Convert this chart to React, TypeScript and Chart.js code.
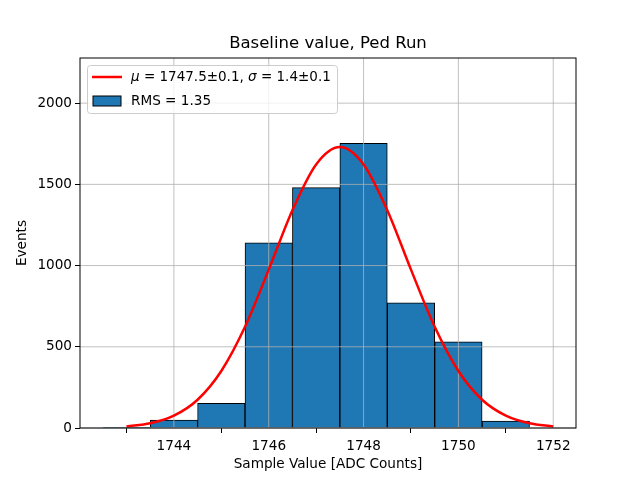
import React, { useEffect, useRef } from 'react';
import { Chart, registerables } from 'chart.js';

Chart.register(...registerables);

// histogram bins (centres) and counts
const binCentres = [1743, 1744, 1745, 1746, 1747, 1748, 1749, 1750, 1751];
const binCounts = [2, 48, 152, 1140, 1480, 1752, 770, 530, 43];

// gaussian fit curve
const fitX = [1743, 1743.5, 1744, 1744.5, 1745, 1745.5, 1746, 1746.5, 1747, 1747.5, 1748, 1748.5, 1749, 1749.5, 1750, 1750.5, 1751, 1751.5, 1752];
const fitY = [10, 29, 76, 174, 351, 623, 975, 1341, 1623, 1730, 1623, 1341, 975, 623, 351, 174, 76, 29, 10];

const xTicks = [1744, 1746, 1748, 1750, 1752];
const yTicks = [0, 500, 1000, 1500, 2000];

const FONT = 'DejaVu Sans';
const TITLE = 'Baseline value, Ped Run';

const overlayPlugin = {
  id: 'overlay',
  // grid goes over the bars but under the fit line
  afterDatasetDraw(chart: any, args: any) {
    if (args.index !== 0) return;
    const { ctx, chartArea: a, scales } = chart;
    const x = scales.x;
    const y = scales.y;
    ctx.save();
    ctx.strokeStyle = '#b0b0b0';
    ctx.lineWidth = 0.8;
    ctx.beginPath();
    x.ticks.forEach((t: any) => {
      const px = x.getPixelForValue(t.value);
      ctx.moveTo(px, a.top);
      ctx.lineTo(px, a.bottom);
    });
    y.ticks.forEach((t: any) => {
      const py = y.getPixelForValue(t.value);
      ctx.moveTo(a.left, py);
      ctx.lineTo(a.right, py);
    });
    ctx.stroke();
    ctx.restore();
  },
  afterDraw(chart: any) {
    const { ctx, chartArea: a } = chart;
    ctx.save();
    // frame
    ctx.strokeStyle = '#000';
    ctx.lineWidth = 1;
    ctx.strokeRect(a.left, a.top, a.right - a.left, a.bottom - a.top);

    // title, centred over the axes
    ctx.fillStyle = '#000';
    ctx.font = `16.5px "${FONT}"`;
    ctx.textAlign = 'center';
    ctx.textBaseline = 'middle';
    ctx.fillText(TITLE, (a.left + a.right) / 2, a.top - 14);
    ctx.textAlign = 'left';

    // legend box
    const lx = a.left + 7;
    const ly = a.top + 7;
    const lw = 250;
    const lh = 48;
    ctx.beginPath();
    ctx.roundRect(lx + 0.5, ly + 0.5, lw, lh, 3);
    ctx.fillStyle = 'rgba(255,255,255,0.8)';
    ctx.fill();
    ctx.strokeStyle = '#cccccc';
    ctx.stroke();

    // row 1: fit line
    const r1 = ly + 12;
    ctx.strokeStyle = 'red';
    ctx.lineWidth = 2.5;
    ctx.beginPath();
    ctx.moveTo(lx + 5, r1);
    ctx.lineTo(lx + 35, r1);
    ctx.stroke();

    ctx.fillStyle = '#000';
    let tx = lx + 44;
    const parts: [string, boolean][] = [
      ['μ', true],
      [' = 1747.5±0.1, ', false],
      ['σ', true],
      [' = 1.4±0.1', false],
    ];
    parts.forEach(([s, it]) => {
      ctx.font = `${it ? 'italic ' : ''}13.5px "${FONT}"`;
      ctx.fillText(s, tx, r1);
      tx += ctx.measureText(s).width;
    });

    // row 2: histogram patch
    const r2 = ly + 36;
    ctx.fillStyle = '#1f77b4';
    ctx.fillRect(lx + 6, r2 - 5, 28, 10);
    ctx.strokeStyle = '#000';
    ctx.lineWidth = 1;
    ctx.strokeRect(lx + 6, r2 - 5, 28, 10);
    ctx.fillStyle = '#000';
    ctx.font = `13.6px "${FONT}"`;
    ctx.fillText('RMS = 1.35', lx + 44, r2);
    ctx.restore();
  },
};

const tickFont = { family: FONT, size: 13.6 };

const App: React.FC = () => {
  const canvasRef = useRef<HTMLCanvasElement | null>(null);
  const chartRef = useRef<Chart | null>(null);

  useEffect(() => {
    document.body.style.margin = '0';
    if (!canvasRef.current) return;
    const ctx = canvasRef.current.getContext('2d');
    if (!ctx) return;
    if (chartRef.current) chartRef.current.destroy();

    chartRef.current = new Chart(ctx, {
      type: 'bar',
      data: {
        datasets: [
          {
            type: 'bar',
            label: 'RMS = 1.35',
            data: binCentres.map((c, i) => ({ x: c, y: binCounts[i] })),
            backgroundColor: '#1f77b4',
            borderColor: '#000',
            borderWidth: 1,
            barPercentage: 1,
            categoryPercentage: 1,
            order: 2,
          },
          {
            type: 'line',
            label: 'fit',
            data: fitX.map((v, i) => ({ x: v, y: fitY[i] })),
            borderColor: 'red',
            borderWidth: 2.5,
            pointRadius: 0,
            tension: 0.4,
            cubicInterpolationMode: 'monotone',
            fill: false,
            order: 1,
          },
        ] as any,
      },
      options: {
        animation: false,
        responsive: false,
        devicePixelRatio: 1,
        layout: { padding: { left: 0, right: 64, top: 58, bottom: 0 } },
        plugins: {
          legend: { display: false },
          tooltip: { enabled: false },
          title: { display: false },
        },
        scales: {
          x: {
            type: 'linear',
            min: 1742.02,
            max: 1752.48,
            offset: false,
            afterBuildTicks: (s: any) => {
              s.ticks = xTicks.map((v) => ({ value: v }));
            },
            afterFit: (s: any) => {
              s.height = 52;
            },
            ticks: {
              font: tickFont,
              color: '#000',
              padding: 5,
              maxRotation: 0,
              autoSkip: false,
              callback: (v: any) => String(v),
            },
            grid: { drawOnChartArea: false, tickLength: 5, tickColor: '#000', lineWidth: 1 },
            border: { display: false },
            title: {
              display: true,
              text: 'Sample Value [ADC Counts]',
              color: '#000',
              font: tickFont,
              padding: { top: 0, bottom: 7 },
            },
          },
          y: {
            type: 'linear',
            min: 0,
            max: 2278,
            afterBuildTicks: (s: any) => {
              s.ticks = yTicks.map((v) => ({ value: v }));
            },
            afterFit: (s: any) => {
              s.width = 80;
            },
            ticks: {
              font: tickFont,
              color: '#000',
              padding: 3,
              callback: (v: any) => String(v),
            },
            grid: { drawOnChartArea: false, tickLength: 5, tickColor: '#000', lineWidth: 1 },
            border: { display: false },
            title: {
              display: true,
              text: 'Events',
              color: '#000',
              font: tickFont,
              padding: { top: 14, bottom: 0 },
            },
          },
        },
      },
      plugins: [overlayPlugin],
    } as any);

    return () => {
      if (chartRef.current) {
        chartRef.current.destroy();
        chartRef.current = null;
      }
    };
  }, []);

  return (
    <div style={{ width: '640px', height: '480px' }}>
      <canvas ref={canvasRef} width={640} height={480}></canvas>
    </div>
  );
};

export default App;
